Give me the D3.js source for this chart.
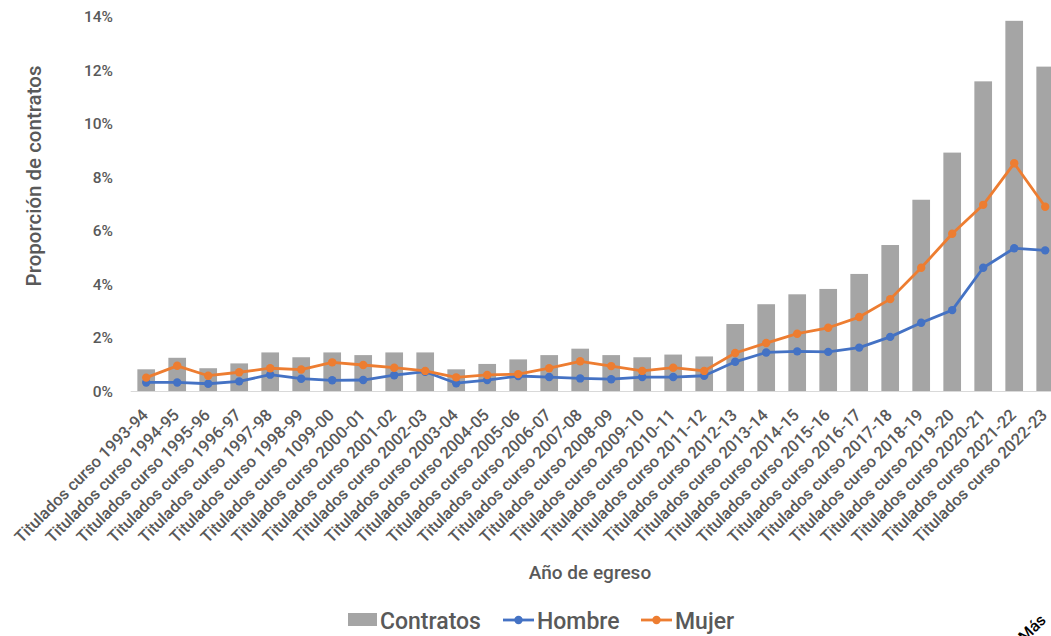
<!DOCTYPE html>
<html><head><meta charset="utf-8">
<script src="https://cdn.jsdelivr.net/npm/d3@7"></script>
<style>body{margin:0;background:#fff;} svg{display:block;font-family:Roboto, "Noto Sans", sans-serif;font-weight:500;}</style>
</head><body>
<svg id="chart" width="1051" height="636"></svg>
<script>
const categories = ["1993-94","1994-95","1995-96","1996-97","1997-98","1998-99","1099-00","2000-01","2001-02","2002-03","2003-04","2004-05","2005-06","2006-07","2007-08","2008-09","2009-10","2010-11","2011-12","2012-13","2013-14","2014-15","2015-16","2016-17","2017-18","2018-19","2019-20","2020-21","2021-22","2022-23"].map(d => "Titulados curso " + d);
const contratos = [0.81,1.24,0.85,1.03,1.44,1.26,1.44,1.34,1.44,1.44,0.81,1.01,1.18,1.34,1.58,1.34,1.26,1.36,1.29,2.50,3.24,3.61,3.81,4.37,5.45,7.14,8.90,11.56,13.82,12.11];
const hombre = [0.32,0.32,0.27,0.36,0.61,0.46,0.40,0.41,0.59,0.72,0.29,0.41,0.56,0.52,0.47,0.44,0.52,0.52,0.57,1.09,1.44,1.48,1.46,1.62,2.02,2.55,3.02,4.60,5.33,5.25];
const mujer = [0.50,0.94,0.57,0.70,0.85,0.80,1.07,0.97,0.87,0.75,0.51,0.60,0.63,0.85,1.11,0.93,0.75,0.87,0.75,1.42,1.79,2.14,2.36,2.76,3.43,4.60,5.87,6.95,8.50,6.88];
const yTicks = [0,2,4,6,8,10,12,14];

const svg = d3.select("#chart");
const textColor = "#595959";
const x = d3.scaleBand().domain(categories).range([130.7, 1060.7]).paddingInner(0.43).paddingOuter(0.215);
const y = d3.scaleLinear().domain([0,14]).range([391,16]);

// y axis labels
const yAxis = d3.axisLeft(y).tickValues(yTicks).tickFormat(d => d + "%").tickSize(0).tickPadding(0);
const gy = svg.append("g").attr("transform","translate(113,0)").call(yAxis);
gy.select(".domain").remove();
gy.selectAll("text").attr("fill", textColor).style("font-size","15.5px").style("font-family","Roboto").style("font-weight","500").attr("dy","0.35em");

// bars
svg.append("g").selectAll("rect").data(contratos).join("rect")
  .attr("x",(d,i)=>x(categories[i])).attr("width",x.bandwidth())
  .attr("y",d=>y(d)).attr("height",d=>y(0)-y(d)).attr("fill","#A5A5A5");

// baseline
svg.append("line").attr("x1",130.7).attr("x2",1051).attr("y1",y(0)+0.5).attr("y2",y(0)+0.5).attr("stroke","#D9D9D9").attr("stroke-width",1);

// x axis labels
const xAxis = d3.axisBottom(x).tickSize(0).tickPadding(0);
const gx = svg.append("g").attr("transform",`translate(0,${y(0)})`).call(xAxis);
gx.select(".domain").remove();
gx.selectAll("text").attr("fill",textColor).style("font-size","16.5px").style("font-family","Roboto").style("font-weight","500")
  .attr("text-anchor","end").attr("dy",null).attr("y",0)
  .attr("transform","translate(3,25) rotate(-45)");

// lines
const cx = (i) => x(categories[i]) + x.bandwidth()/2;
function series(vals, color){
  const line = d3.line().x((d,i)=>cx(i)).y(d=>y(d));
  svg.append("path").datum(vals).attr("d",line).attr("fill","none").attr("stroke",color).attr("stroke-width",2.8).attr("stroke-linejoin","round");
  svg.append("g").selectAll("circle").data(vals).join("circle")
    .attr("cx",(d,i)=>cx(i)).attr("cy",d=>y(d)).attr("r",4.2).attr("fill",color);
}
series(hombre,"#4472C4");
series(mujer,"#ED7D31");

// axis titles
svg.append("text").attr("transform","translate(41,176) rotate(-90)").attr("text-anchor","middle")
  .attr("fill",textColor).style("font-size","20.5px").text("Proporción de contratos");
svg.append("text").attr("x",590).attr("y",579).attr("text-anchor","middle")
  .attr("fill",textColor).style("font-size","19px").text("Año de egreso");

// legend
const lg = svg.append("g").style("font-size","23px").attr("fill",textColor);
lg.append("rect").attr("x",348).attr("y",613).attr("width",29).attr("height",13).attr("fill","#A5A5A5");
lg.append("text").attr("x",380).attr("y",629).text("Contratos");
const legendLines = [{name:"Hombre",color:"#4472C4",x:503},{name:"Mujer",color:"#ED7D31",x:641}];
legendLines.forEach(l=>{
  lg.append("line").attr("x1",l.x).attr("x2",l.x+31).attr("y1",620).attr("y2",620).attr("stroke",l.color).attr("stroke-width",2.8);
  lg.append("circle").attr("cx",l.x+15.5).attr("cy",620).attr("r",4.2).attr("fill",l.color);
  lg.append("text").attr("x",l.x+34).attr("y",629).text(l.name);
});

// cut-off label at bottom-right
svg.append("text").attr("transform","translate(1025,643) rotate(-45)").attr("fill","#000").style("font-size","16px").text("Más");
</script>
</body></html>
